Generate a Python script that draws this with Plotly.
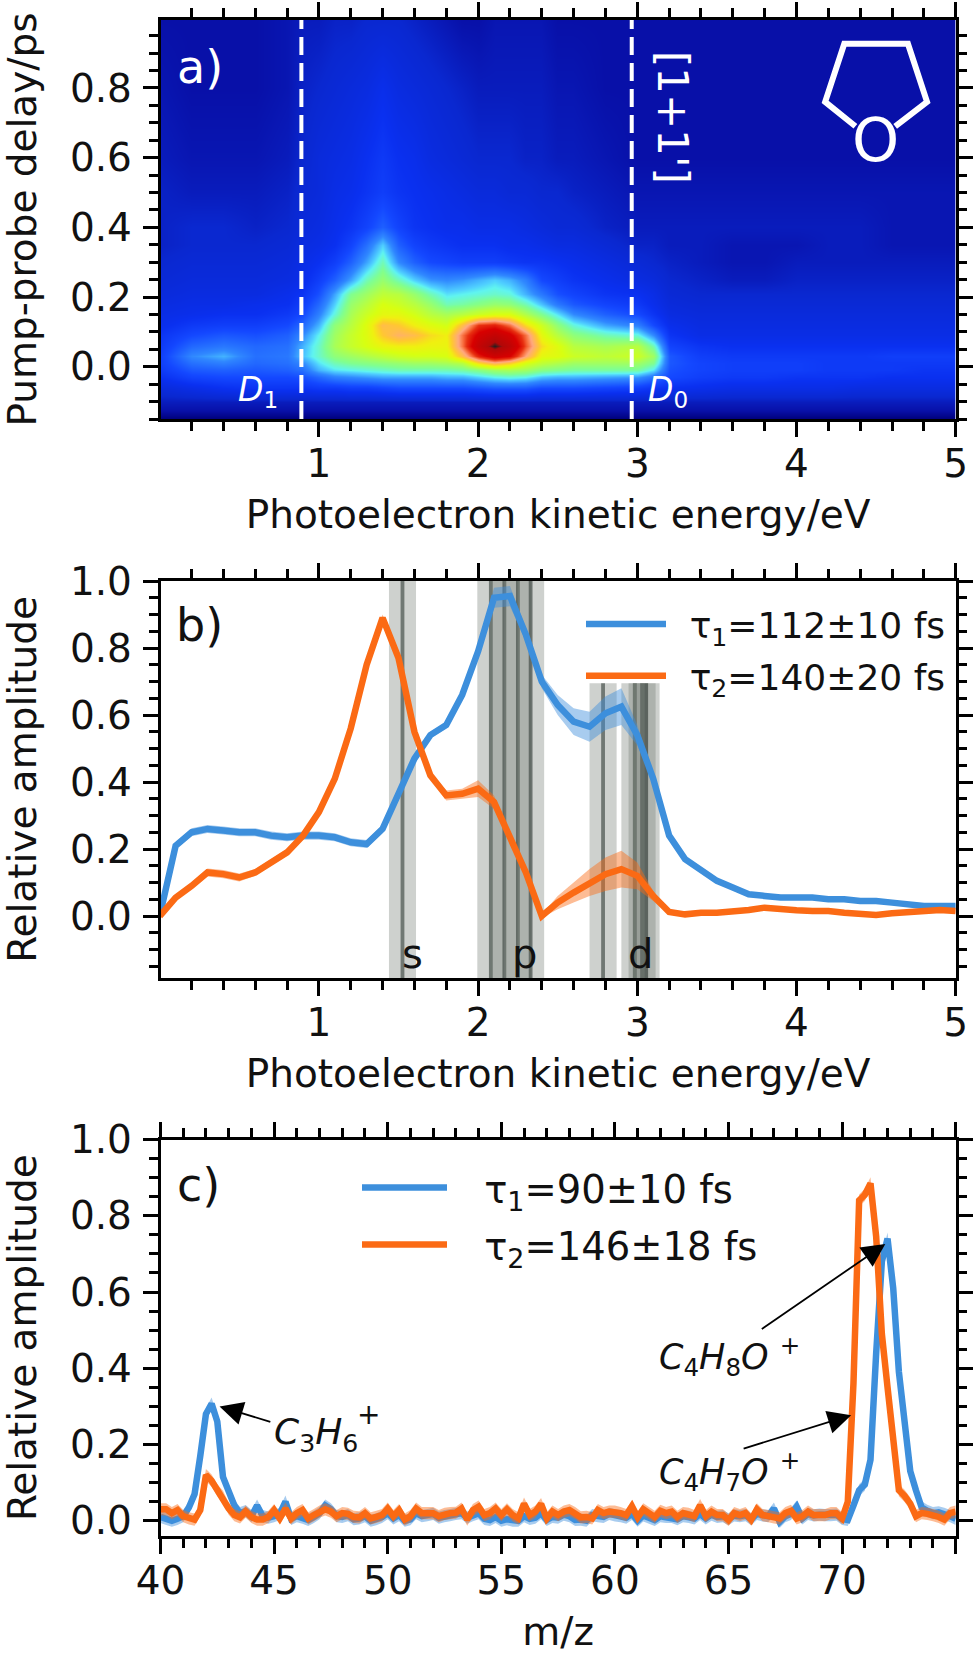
import plotly.graph_objects as go

W, H = 980, 1655
FONT = "DejaVu Sans"
BLUE = "#3d8fdc"
ORANGE = "#fb6a14"

# panel a
energy_a = [0, .2, .4, .6, .8, .9, 1.0, 1.1, 1.2, 1.3, 1.4, 1.5, 1.6, 1.7, 1.8, 1.9, 2.0, 2.1, 2.2, 2.3, 2.4, 2.5, 2.6, 2.8, 3.0, 3.1, 3.2, 3.4, 3.6, 3.8, 4.0, 4.2, 4.4, 4.6, 4.8, 5.0]
delay_a = [-.15, -.10, -.06, -.03, -.01, .01, .03, .06, .09, .12, .15, .18, .21, .25, .30, .35, .40, .50, .60, .80, 1.0]
signal_a = [
 [.03,.03,.03,.03,.03,.03,.03,.03,.03,.03,.03,.03,.03,.03,.03,.03,.03,.03,.03,.03,.03,.03,.03,.03,.03,.03,.03,.03,.03,.03,.03,.03,.03,.03,.03,.03],
 [.07,.07,.07,.07,.07,.07,.07,.07,.07,.07,.07,.07,.07,.07,.07,.07,.07,.07,.07,.07,.07,.07,.07,.07,.07,.07,.07,.07,.07,.07,.07,.07,.07,.07,.07,.07],
 [.11,.13,.15,.16,.16,.16,.17,.17,.18,.18,.19,.20,.20,.20,.20,.20,.21,.22,.22,.22,.20,.20,.20,.19,.18,.16,.15,.14,.13,.13,.13,.13,.12,.12,.12,.12],
 [.15,.19,.20,.20,.20,.21,.24,.27,.28,.29,.30,.30,.30,.30,.31,.31,.33,.35,.36,.35,.32,.31,.31,.30,.29,.25,.20,.18,.17,.17,.16,.16,.16,.15,.15,.15],
 [.17,.22,.23,.22,.23,.25,.31,.34,.35,.36,.37,.38,.38,.38,.38,.39,.41,.44,.45,.44,.41,.40,.39,.39,.39,.34,.21,.19,.18,.18,.18,.17,.17,.17,.16,.16],
 [.18,.25,.27,.24,.25,.28,.34,.38,.40,.41,.42,.43,.44,.44,.45,.47,.58,.64,.60,.52,.48,.46,.44,.44,.44,.40,.22,.19,.18,.18,.18,.17,.17,.17,.17,.17],
 [.18,.28,.31,.25,.26,.32,.37,.42,.44,.46,.48,.50,.51,.51,.52,.62,.76,.84,.80,.66,.54,.53,.50,.48,.50,.44,.22,.18,.17,.17,.17,.17,.17,.18,.18,.18],
 [.17,.24,.26,.24,.25,.31,.37,.45,.49,.52,.55,.56,.56,.55,.55,.70,.88,1.0,.90,.72,.58,.53,.47,.45,.47,.38,.19,.16,.15,.15,.15,.15,.15,.15,.15,.15],
 [.16,.20,.22,.21,.23,.28,.35,.44,.49,.53,.60,.64,.62,.58,.56,.70,.82,.88,.82,.70,.54,.47,.42,.38,.36,.28,.16,.13,.13,.13,.13,.13,.13,.13,.13,.13],
 [.14,.17,.18,.18,.20,.24,.31,.42,.47,.53,.62,.60,.56,.53,.51,.62,.74,.76,.70,.58,.50,.42,.36,.30,.27,.20,.14,.12,.12,.12,.12,.12,.12,.12,.12,.12],
 [.13,.14,.15,.15,.17,.20,.27,.36,.45,.50,.54,.54,.51,.47,.45,.47,.50,.52,.52,.46,.40,.34,.28,.23,.20,.16,.12,.11,.11,.11,.11,.11,.11,.11,.11,.11],
 [.12,.13,.13,.14,.15,.18,.24,.33,.43,.47,.52,.50,.47,.43,.38,.39,.41,.43,.42,.38,.32,.26,.22,.19,.17,.14,.11,.10,.10,.10,.10,.10,.10,.10,.10,.10],
 [.11,.12,.12,.12,.14,.16,.21,.30,.40,.44,.48,.47,.43,.38,.34,.35,.36,.37,.36,.31,.26,.21,.19,.16,.15,.13,.10,.09,.09,.09,.09,.09,.09,.09,.09,.09],
 [.10,.11,.11,.11,.12,.14,.18,.23,.30,.38,.43,.38,.33,.29,.28,.29,.31,.33,.31,.27,.20,.18,.16,.14,.12,.11,.09,.08,.07,.07,.08,.08,.08,.08,.08,.08],
 [.09,.10,.10,.10,.11,.13,.15,.18,.23,.30,.38,.28,.23,.20,.19,.18,.18,.18,.17,.16,.16,.15,.14,.12,.10,.09,.08,.07,.06,.06,.07,.07,.07,.07,.07,.07],
 [.08,.09,.09,.09,.10,.12,.13,.15,.19,.25,.33,.23,.19,.17,.16,.15,.15,.15,.14,.14,.13,.12,.12,.10,.08,.08,.07,.07,.06,.06,.06,.07,.07,.06,.06,.06],
 [.08,.09,.09,.08,.09,.11,.12,.14,.16,.19,.23,.19,.16,.15,.14,.14,.13,.13,.13,.12,.11,.10,.10,.08,.07,.07,.07,.07,.07,.07,.07,.07,.07,.06,.06,.06],
 [.08,.07,.07,.07,.08,.10,.11,.13,.14,.16,.18,.16,.15,.14,.13,.12,.11,.11,.10,.10,.09,.09,.08,.07,.06,.06,.06,.06,.06,.06,.06,.06,.06,.06,.06,.06],
 [.07,.06,.06,.06,.07,.09,.11,.12,.13,.15,.17,.15,.14,.12,.11,.10,.09,.09,.09,.08,.08,.07,.07,.06,.05,.05,.05,.05,.05,.05,.05,.05,.05,.05,.05,.05],
 [.06,.05,.05,.05,.06,.08,.09,.10,.11,.12,.14,.12,.11,.10,.09,.08,.07,.07,.07,.07,.07,.06,.06,.05,.05,.05,.05,.05,.05,.05,.05,.05,.05,.05,.05,.05],
 [.05,.05,.05,.05,.06,.07,.07,.08,.08,.09,.09,.09,.08,.07,.06,.05,.05,.06,.06,.06,.06,.05,.05,.05,.05,.05,.05,.05,.05,.05,.05,.05,.05,.05,.05,.05],
]
heat_colors = [[0, "#00006a"], [.03, "#00007a"], [.05, "#0810a8"], [.09, "#0a28d0"], [.15, "#0a30f0"], [.20, "#1448ff"],
               [.28, "#3088ff"], [.33, "#50d0ff"], [.35, "#60f4f0"], [.40, "#80ff90"], [.47, "#b8ff40"], [.52, "#d8ff10"],
               [.56, "#f0f010"], [.60, "#ffc830"], [.66, "#ffa880"], [.70, "#f87040"], [.74, "#e83010"], [.80, "#d80000"],
               [.95, "#b00808"], [1, "#202020"]]
dash_energy = [0.89, 2.965]
ring_x = [4.37, 4.18, 4.30, 4.70, 4.82, 4.62]
ring_y = [.69, .76, .927, .927, .76, .69]

# panel b
energy_b = [i / 10 for i in range(51)]
tau1_b = [0, .21, .25, .26, .255, .25, .25, .24, .235, .24, .24, .235, .22, .215, .26, .36, .47, .54, .57, .66, .79, .95, .955, .84, .70, .63, .58, .565, .605, .625, .54, .41, .24, .17, .135, .105, .085, .065, .06, .055, .055, .055, .05, .05, .045, .045, .04, .035, .03, .03, .03]
tau1_b_err = [.005, .01, .012, .012, .012, .012, .012, .012, .012, .012, .012, .012, .012, .012, .012, .01, .01, .01, .01, .012, .015, .03, .03, .02, .02, .03, .04, .045, .05, .055, .03, .015, .01, .008, .005, .005, .005, .005, .005, .005, .005, .005, .005, .005, .005, .005, .005, .005, .005, .005, .005]
tau2_b = [0, .055, .09, .13, .125, .115, .13, .16, .19, .24, .31, .41, .56, .75, .89, .77, .55, .42, .36, .365, .38, .34, .24, .13, 0, .04, .07, .10, .125, .14, .12, .06, .012, .005, .01, .01, .012, .018, .025, .02, .017, .015, .015, .01, .005, .003, .008, .012, .015, .018, .015]
tau2_b_err = [.005, .008, .01, .012, .012, .012, .01, .01, .01, .01, .01, .01, .01, .01, .01, .01, .01, .01, .015, .015, .025, .02, .01, .01, .005, .02, .03, .04, .05, .055, .04, .015, .008, .005, .005, .005, .005, .005, .005, .005, .005, .005, .005, .005, .005, .005, .005, .005, .005, .005, .005]
s_lines = [1.525]
p_lines = [2.08, 2.165, 2.25, 2.33]
d_lines = [2.785, 2.985, 3.03, 3.055]
band_halfwidth = [.085]
d_top = [.695]

# panel c
mz = [40 + i * .25 for i in range(141)]
tau1_c = [
 .01,.005,.0,.005,.012,.035,.07,.17,.28,.307,
 .26,.115,.08,.04,.02,.025,.012,.04,.012,.008,
 .012,.018,.05,.005,.012,.008,.002,.01,.02,.04,
 .03,.012,.01,.015,.004,.006,.012,.0,.004,.01,
 .02,.006,.015,.0,.004,.02,.012,.015,.018,.008,
 .012,.015,.018,.02,.008,.015,.02,.005,.002,.01,
 .0,.004,.0,.0,.012,.005,.008,.02,.002,.01,
 .008,.016,.012,.002,.003,.0,.015,.012,.01,.018,
 .014,.012,.008,.018,.0,.014,.008,.002,.012,.01,
 .01,.004,.012,.01,.006,.018,.006,.016,.01,.012,
 .004,.014,.012,.015,.004,.018,.014,.012,.032,-.003,
 .012,.018,.037,.006,.018,.014,.016,.015,.015,.016,
 .005,.002,.04,.08,.095,.16,.44,.68,.74,.61,
 .39,.26,.13,.08,.035,.026,.02,.022,.018,.012,.005]
tau2_c = [
 .03,.03,.02,.028,.012,.006,.003,.028,.12,.105,
 .08,.063,.032,.015,.009,.024,.01,.003,.003,.01,
 .028,.006,.032,.006,.02,.028,.006,.015,.024,.03,
 .024,.012,.02,.018,.01,.009,.02,.006,.01,.015,
 .032,.012,.028,.003,.012,.032,.02,.02,.02,.012,
 .018,.02,.021,.032,.003,.028,.037,.015,.02,.032,
 .015,.03,.015,.006,.045,.015,.024,.044,.006,.024,
 .015,.024,.028,.02,.009,.01,.006,.028,.02,.024,
 .024,.02,.015,.038,.009,.03,.02,.01,.026,.02,
 .024,.01,.02,.018,.012,.041,.012,.024,.015,.015,
 .002,.02,.015,.02,.003,.03,.015,.012,.009,.006,
 .02,.026,.006,.012,.024,.015,.015,.015,.02,.02,
 .006,.05,.36,.84,.855,.885,.745,.49,.35,.2,
 .08,.065,.045,.012,.02,.018,.015,.01,.003,.02,.024]
err_c = [.016] * 141

X0, X1 = 160.5, 955.7
PANELS = [(20, 419), (581, 978), (1139.5, 1536)]


def dom(p):
    return [1 - p[1] / H, 1 - p[0] / H]


def hex_rgba(c, a):
    return f"rgba({int(c[1:3],16)},{int(c[3:5],16)},{int(c[5:7],16)},{a})"


fig = go.Figure()
fig.add_trace(go.Heatmap(x=energy_a, y=delay_a, z=signal_a, colorscale=heat_colors, zmin=0, zmax=1,
                         zsmooth="best", showscale=False, xaxis="x", yaxis="y"))
for e in dash_energy:
    fig.add_trace(go.Scatter(x=[e, e], y=[-.15, 1.0], mode="lines", xaxis="x", yaxis="y", showlegend=False,
                             line=dict(color="white", width=4, dash="18px,8px")))
fig.add_trace(go.Scatter(x=ring_x, y=ring_y, mode="lines", xaxis="x", yaxis="y", showlegend=False,
                         line=dict(color="white", width=6)))


def band_traces(xs, ys, errs, color, xa, ya, name, legend, pad):
    up = [a + b for a, b in zip(ys, errs)]
    lo = [a - b for a, b in zip(ys, errs)]
    fig.add_trace(go.Scatter(x=xs + xs[::-1], y=up + lo[::-1], fill="toself", mode="none",
                             fillcolor=hex_rgba(color, .45), xaxis=xa, yaxis=ya, showlegend=False))
    fig.add_trace(go.Scatter(x=xs, y=ys, mode="lines", name=pad + name, xaxis=xa, yaxis=ya, legend=legend,
                             legendgroup=name, line=dict(color=color, width=6.5)))


PAD_B = "\u00a0\u2009"
PAD_C = "\u00a0\u00a0\u2009"
band_traces(energy_b, tau1_b, tau1_b_err, BLUE, "x2", "y2", "τ<sub>1</sub>=112±10 fs", "legend", PAD_B)
band_traces(energy_b, tau2_b, tau2_b_err, ORANGE, "x2", "y2", "τ<sub>2</sub>=140±20 fs", "legend", PAD_B)
band_traces(mz, tau1_c, err_c, BLUE, "x3", "y3", "τ<sub>1</sub>=90±10 fs", "legend2", PAD_C)
band_traces(mz, tau2_c, err_c, ORANGE, "x3", "y3", "τ<sub>2</sub>=146±18 fs", "legend2", PAD_C)

shapes = []
for group, top in ((s_lines, 1.0), (p_lines, 1.0), (d_lines, d_top[0])):
    for c in group:
        shapes.append(dict(type="rect", xref="x2", yref="y2", x0=c - band_halfwidth[0], x1=c + band_halfwidth[0],
                           y0=-.2, y1=top, fillcolor="rgba(110,120,110,.34)", line_width=0, layer="below"))
        shapes.append(dict(type="rect", xref="x2", yref="y2", x0=c - .012, x1=c + .012,
                           y0=-.2, y1=top, fillcolor="rgba(50,60,55,.6)", line_width=0, layer="below"))

TICK = 39


def axis(rng, major, minor, anchor, title=None, **kw):
    t0 = kw.pop("tick0", 0)
    d = dict(range=rng, dtick=major, tick0=t0, ticks="outside", ticklen=15, tickwidth=3,
             tickcolor="black", showline=True, linecolor="black", linewidth=2.5, mirror="allticks",
             showgrid=False, zeroline=False, anchor=anchor, automargin=False,
             tickfont=dict(family=FONT, size=TICK, color="#111"),
             minor=dict(dtick=minor, tick0=t0, ticks="outside", ticklen=9, tickwidth=3, tickcolor="black", showgrid=False))
    if title:
        d["title"] = dict(text=title, font=dict(family=FONT, size=TICK, color="#111"), standoff=kw.pop("standoff", 12))
    d.update(kw)
    return d


xd = [X0 / W, X1 / W]
XS = dict(ticklabelstandoff=-7, standoff=17)
YS = dict(ticklabelstandoff=3, standoff=26, tickformat=".1f")
layout = dict(
    width=W, height=H, margin=dict(l=0, r=0, t=0, b=0), paper_bgcolor="white", plot_bgcolor="white",
    xaxis=axis([.005, 5], 1, .2, "y", "Photoelectron kinetic energy/eV", domain=xd, **XS),
    yaxis=axis([-.15, .995], .2, .05, "x", "Pump-probe delay/ps", domain=dom(PANELS[0]), **YS),
    xaxis2=axis([.005, 5], 1, .2, "y2", "Photoelectron kinetic energy/eV", domain=xd, **XS),
    yaxis2=axis([-.185, 1.0], .2, .05, "x2", "Relative amplitude", domain=dom(PANELS[1]), **YS),
    xaxis3=axis([40, 75], 5, 1, "y3", "m/z", domain=xd, tick0=40, **XS),
    yaxis3=axis([-.04, 1.0], .2, .05, "x3", "Relative amplitude", domain=dom(PANELS[2]), **YS),
    shapes=shapes,
    legend=dict(x=581 / W, xanchor="left", y=1 - 594 / H, yanchor="top", bgcolor="rgba(0,0,0,0)",
                font=dict(family=FONT, size=36, color="#111"), itemwidth=80, tracegroupgap=2),
    legend2=dict(x=357 / W, xanchor="left", y=1 - 1156 / H, yanchor="top", bgcolor="rgba(0,0,0,0)",
                 font=dict(family=FONT, size=38.5, color="#111"), itemwidth=85, tracegroupgap=4),
)
fig.update_layout(**layout)


def note(x, y, text, xa="x", ya="y", color="#111", size=TICK, **kw):
    fig.add_annotation(x=x, y=y, xref=xa, yref=ya, text=text, showarrow=False,
                       font=dict(family=FONT, size=size, color=color), **kw)


note(.25, .86, "a)", color="white", size=46)
note(.25, .87, "b)", xa="x2", ya="y2", size=46)
note(41.67, .88, "c)", xa="x3", ya="y3", size=46)
note(.62, -.07, "<i>D</i><sub>1</sub>", color="white", size=33)
note(3.19, -.07, "<i>D</i><sub>0</sub>", color="white", size=33)
note(3.22, .716, "[1+1']", color="white", size=42, textangle=90)
note(4.495, .65, "O", color="white", size=60)
note(1.59, -.113, "s", xa="x2", ya="y2", size=40)
note(2.29, -.113, "p", xa="x2", ya="y2", size=40)
note(3.02, -.113, "d", xa="x2", ya="y2", size=40)
note(46.85, .227, "<i>C</i><sub>3</sub><i>H</i><sub>6</sub>", xa="x3", ya="y3", size=36)
note(49.15, .28, "+", xa="x3", ya="y3", size=28)
note(65.05, .43, "<i>C</i><sub>4</sub><i>H</i><sub>8</sub><i>O</i> <sup>+</sup>", xa="x3", ya="y3", size=35)
note(65.05, .13, "<i>C</i><sub>4</sub><i>H</i><sub>7</sub><i>O</i> <sup>+</sup>", xa="x3", ya="y3", size=35)


def arrow(tx, ty, fx, fy):
    fig.add_annotation(x=tx, y=ty, ax=fx, ay=fy, xref="x3", yref="y3", axref="x3", ayref="y3", text="",
                       showarrow=True, arrowhead=2, arrowsize=2.6, arrowwidth=1.8, arrowcolor="black")


arrow(42.6, .30, 44.9, .258)
arrow(71.9, .726, 66.4, .50)
arrow(70.4, .277, 65.6, .188)

fig.write_html("out.html", config={"displayModeBar": False}, post_script="document.body.style.margin='0';")
